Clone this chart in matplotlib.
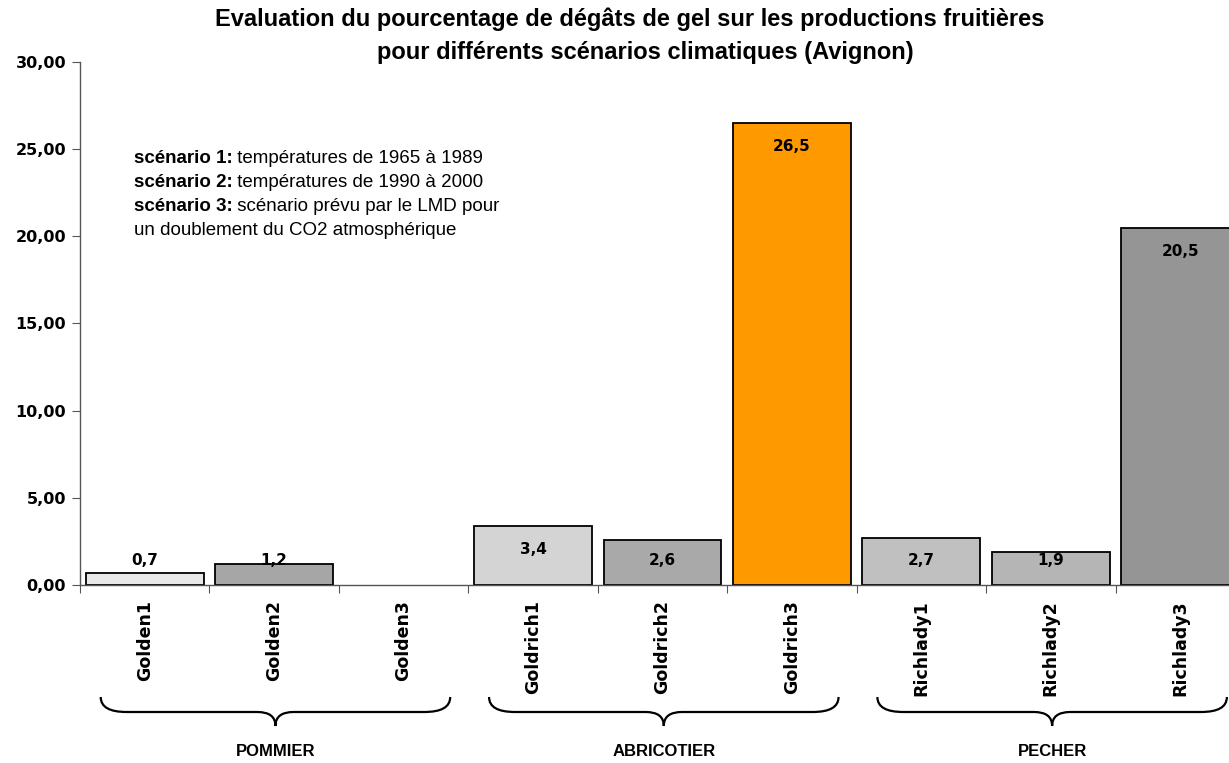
import matplotlib
matplotlib.use("Agg")
import matplotlib.pyplot as plt
import matplotlib.transforms as mtransforms
from matplotlib.path import Path
from matplotlib.patches import PathPatch

categories = ["Golden1", "Golden2", "Golden3",
              "Goldrich1", "Goldrich2", "Goldrich3",
              "Richlady1", "Richlady2", "Richlady3"]
values = [0.7, 1.2, 0.0, 3.4, 2.6, 26.5, 2.7, 1.9, 20.5]
value_labels = ["0,7", "1,2", "", "3,4", "2,6", "26,5", "2,7", "1,9", "20,5"]
colors = ["#e8e8e8", "#a6a6a6", "#ffffff", "#d4d4d4", "#a9a9a9",
          "#ff9900", "#c0c0c0", "#b5b5b5", "#959595"]
groups = ["POMMIER", "ABRICOTIER", "PECHER"]
yticks = [0, 5, 10, 15, 20, 25, 30]
ytick_labels = ["0,00", "5,00", "10,00", "15,00", "20,00", "25,00", "30,00"]
title1 = "Evaluation du pourcentage de dégâts de gel sur les productions fruitières"
title2 = "pour différents scénarios climatiques (Avignon)"
scenarios = [("scénario 1:", " températures de 1965 à 1989"),
             ("scénario 2:", " températures de 1990 à 2000"),
             ("scénario 3:", " scénario prévu par le LMD pour"),
             ("", "un doublement du CO2 atmosphérique")]

W, H = 1229, 763
fig = plt.figure(figsize=(W / 100, H / 100), dpi=100)
# axes runs a bit past the right edge, as in the original
ax = fig.add_axes([80 / W, (H - 585) / H, 1165 / W, 523 / H])

heavy = "DejaVu Sans"
arial = "Liberation Sans"

x = list(range(len(categories)))
bars = ax.bar(x, values, width=0.91, color=colors, edgecolor="black", linewidth=1.3, zorder=2)
bars[2].set_visible(False)

for xi, v, lab in zip(x, values, value_labels):
    if lab:
        ax.text(xi, max(v - 1.35, 1.4), lab, ha="center", va="center",
                fontsize=11, fontweight="bold", family=heavy, zorder=3)

ax.set_xlim(-0.5, 8.5)
ax.set_ylim(0, 30)
ax.set_yticks(yticks)
ax.set_yticklabels(ytick_labels, fontsize=11.5, fontweight="bold", family=heavy)
ax.set_xticks([i - 0.5 for i in range(len(categories) + 1)])
ax.set_xticklabels([])
ax.set_xticks(x, minor=True)
ax.set_xticklabels(categories, minor=True, rotation=90, fontsize=12.5,
                   fontweight="bold", family=heavy, va="top")
ax.tick_params(axis="x", which="minor", length=0, pad=11)
ax.tick_params(axis="x", which="major", length=6, color="#555555")
ax.tick_params(axis="y", length=6, color="#555555", pad=4)
for s in ["top", "right"]:
    ax.spines[s].set_visible(False)
for s in ["left", "bottom"]:
    ax.spines[s].set_color("#555555")
    ax.spines[s].set_linewidth(1.0)

fig.text(630 / W, 1 - 19 / H, title1, ha="center", va="center", fontsize=17,
         fontweight="bold", family=arial)
fig.text(645 / W, 1 - 52 / H, title2, ha="center", va="center", fontsize=17,
         fontweight="bold", family=arial)

# scenario legend text
y0 = 0.80
for i, (b, n) in enumerate(scenarios):
    yy = y0 - i * 0.046
    if b:
        t = ax.text(0.046, yy, b, transform=ax.transAxes, fontsize=13.5,
                    fontweight="bold", family=arial, va="bottom", ha="left")
        ax.annotate(n, xy=(1, 0), xycoords=t, fontsize=13.5, family=arial,
                    va="bottom", ha="left")
    else:
        ax.text(0.046, yy, n, transform=ax.transAxes, fontsize=13.5,
                family=arial, va="bottom", ha="left")

# curly braces under each group
trans = mtransforms.blended_transform_factory(ax.transData, fig.transFigure)
y_tip = (H - 697) / H
y_mid = (H - 712) / H
y_pt = (H - 726) / H
for g, name in enumerate(groups):
    x0 = 3 * g - 0.34
    x1 = 3 * g + 2.36
    xc = 3 * g + 1.01
    r = 0.2
    verts = [(x0, y_tip), (x0, y_mid), (x0 + r, y_mid),
             (xc - r * 0.7, y_mid),
             (xc, y_mid), (xc, y_pt),
             (xc, y_mid), (xc + r * 0.7, y_mid),
             (x1 - r, y_mid),
             (x1, y_mid), (x1, y_tip)]
    codes = [Path.MOVETO, Path.CURVE3, Path.CURVE3,
             Path.LINETO,
             Path.CURVE3, Path.CURVE3,
             Path.CURVE3, Path.CURVE3,
             Path.LINETO,
             Path.CURVE3, Path.CURVE3]
    ax.add_patch(PathPatch(Path(verts, codes), transform=trans, fill=False,
                           lw=1.6, edgecolor="black", clip_on=False))
    fig.text(xc, (H - 752) / H, name, transform=trans, ha="center", va="center",
             fontsize=12, fontweight="bold", family=arial)

fig.savefig("out.png", dpi=100)
